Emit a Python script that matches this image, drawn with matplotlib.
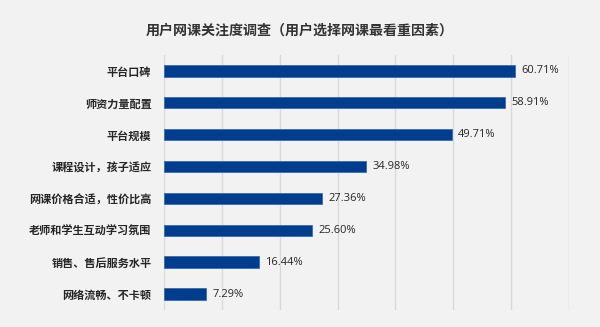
import matplotlib
matplotlib.use("Agg")
import matplotlib.pyplot as plt

plt.rcParams['font.family'] = ['Noto Sans CJK SC', 'DejaVu Sans']

categories = ["平台口碑", "师资力量配置", "平台规模", "课程设计，孩子适应",
              "网课价格合适，性价比高", "老师和学生互动学习氛围",
              "销售、售后服务水平", "网络流畅、不卡顿"]
values = [60.71, 58.91, 49.71, 34.98, 27.36, 25.60, 16.44, 7.29]
title = "用户网课关注度调查（用户选择网课最看重因素）"

bg = "#f2f2f2"
fig = plt.figure(figsize=(6, 3.27), dpi=100, facecolor=bg)
ax = fig.add_axes([0.2733, 0.052, 0.675, 0.78], facecolor=bg)

ypos = list(range(len(categories)))[::-1]
ax.barh(ypos, values, height=0.36, color="#003d8f", edgecolor="#3a6db0",
        linewidth=0.6, zorder=3)
for y, v in zip(ypos, values):
    ax.text(v + 1.1, y, f"{v:.2f}%", va="center", ha="left",
            fontsize=8, color="#262626", family=['Open Sans', 'DejaVu Sans'])

ax.set_xlim(0, 70)
ax.set_ylim(-0.5, len(categories) - 0.5)
ax.set_xticks(range(0, 71, 10))
ax.xaxis.grid(True, color="#d9d9d9", linewidth=1.0, zorder=0)
ax.tick_params(axis="x", length=0, labelbottom=False)
ax.tick_params(axis="y", length=0, pad=9)
ax.set_yticks(ypos)
ax.set_yticklabels(categories, fontsize=8, color="#262626", fontweight="bold")
for s in ax.spines.values():
    s.set_visible(False)

fig.text(0.5, 0.905, title, ha="center", va="center", fontsize=10.1,
         color="#333333", fontweight="bold")

fig.savefig("out.png", dpi=100, facecolor=bg)
